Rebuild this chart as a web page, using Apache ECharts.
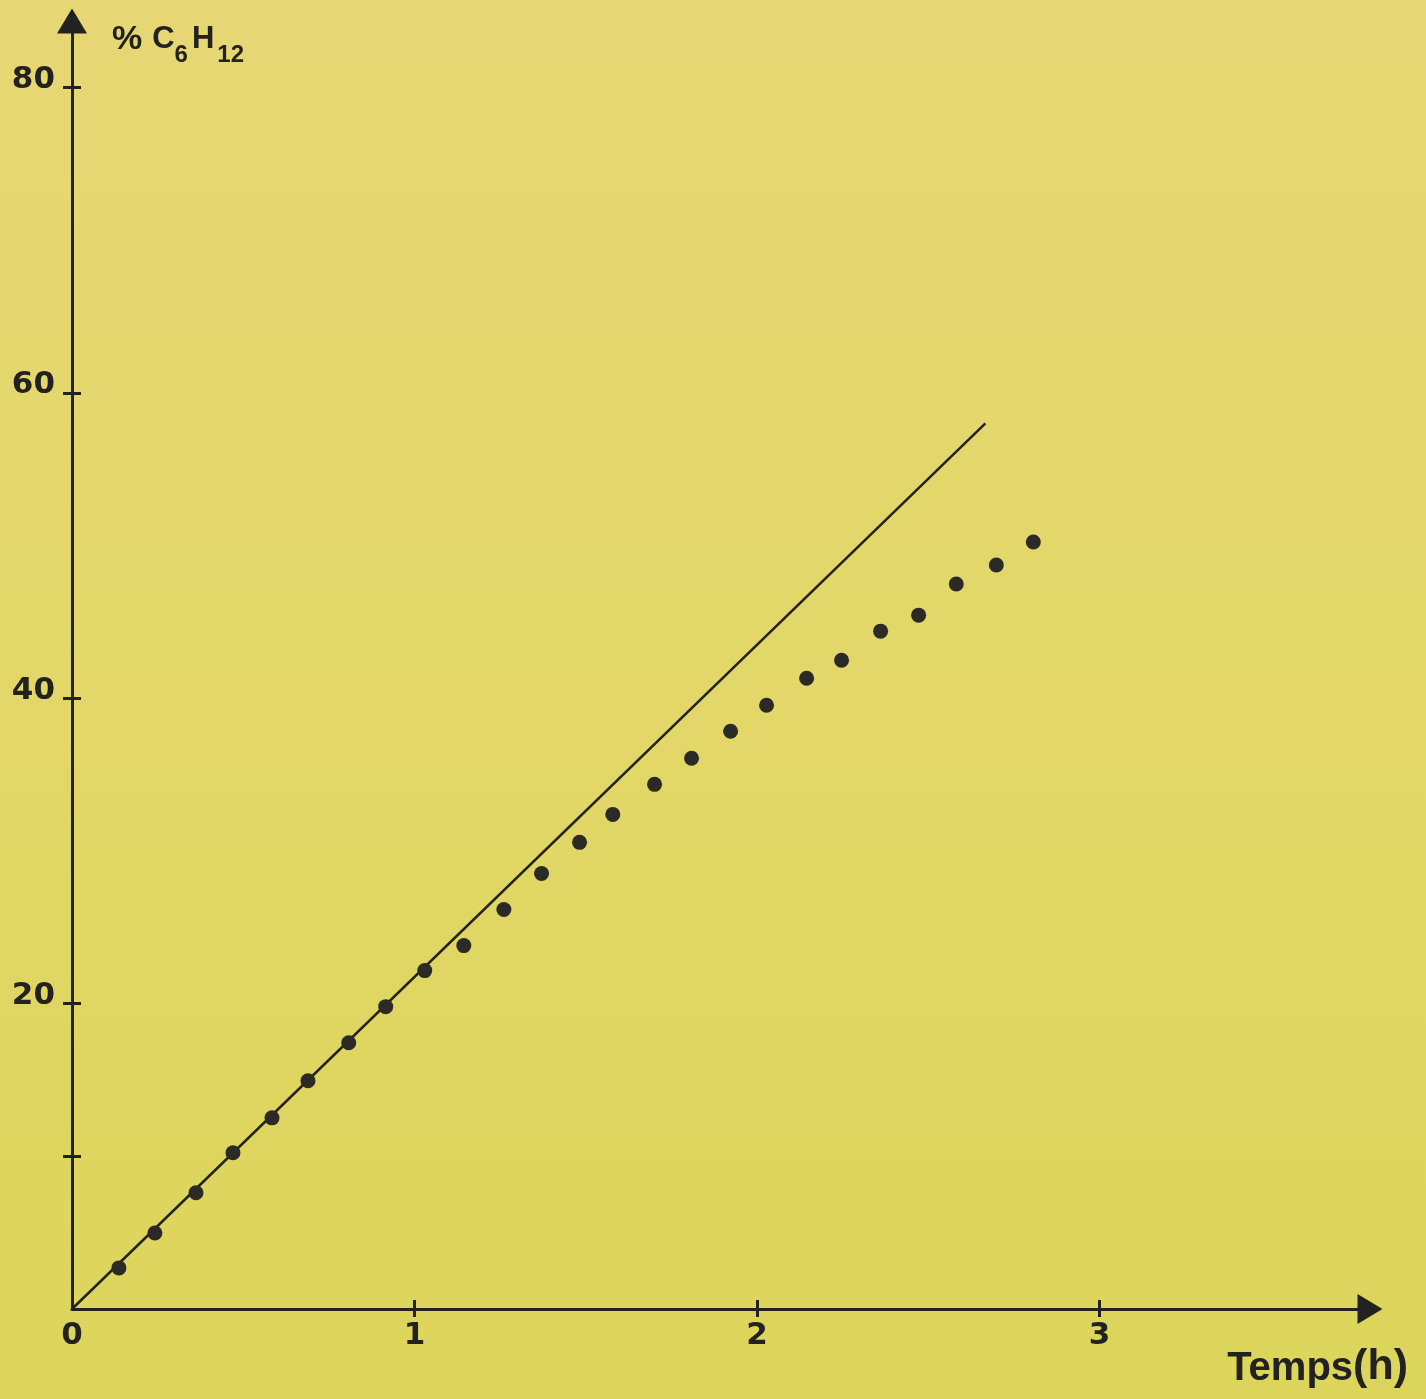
<!DOCTYPE html>
<html>
<head>
<meta charset="utf-8">
<title>% C6H12 en fonction du temps</title>
<script src="https://cdn.jsdelivr.net/npm/echarts@6/dist/echarts.min.js"></script>
<style>
  html, body { margin: 0; padding: 0; }
  #chart { width: 1426px; height: 1399px; }
</style>
</head>
<body>
<div id="chart"></div>
<script>
"use strict";

// measured points (time in hours, % C6H12)
var timeH = [0.137, 0.242, 0.362, 0.470, 0.584, 0.689, 0.808, 0.916, 1.030, 1.144,
	1.261, 1.371, 1.482, 1.579, 1.701, 1.809, 1.923, 2.028, 2.145, 2.247,
	2.361, 2.472, 2.582, 2.699, 2.807];
var pctC6H12 = [2.69, 4.98, 7.61, 10.23, 12.52, 14.95, 17.44, 19.80, 22.16, 23.80,
	26.16, 28.52, 30.56, 32.39, 34.36, 36.07, 37.84, 39.54, 41.31, 42.49,
	44.39, 45.44, 47.48, 48.72, 50.23];

// initial-rate straight line
var lineX = [0, 2.667];
var lineY = [0, 58.0];

var xTicks = [1, 2, 3];
var xLabels = [0, 1, 2, 3];
var yTicks = [10, 20, 40, 60, 80];
var yLabels = [20, 40, 60, 80];

var X_MAX = 3.79;
var Y_MAX = 84.35;
var INK = '#232220';
var DIGIT_FONT = '"DejaVu Sans", sans-serif';
var TEXT_FONT = '"Liberation Sans", Arial, sans-serif';

function pairs(xs, ys) {
	var out = [];
	for (var i = 0; i < xs.length; i++) out.push([xs[i], ys[i]]);
	return out;
}

var chart = echarts.init(document.getElementById('chart'), null, { renderer: 'canvas' });

var tickBase = { show: true, length: 9, lineStyle: { color: INK, width: 3 } };

function titleStyle(size, pad) {
	return {
		fontFamily: TEXT_FONT, fontWeight: 'bold', fontSize: size, lineHeight: size,
		color: INK, verticalAlign: 'bottom', padding: pad
	};
}

chart.setOption({
	animation: false,
	backgroundColor: {
		type: 'linear', x: 0, y: 0, x2: 0, y2: 1,
		colorStops: [
			{ offset: 0, color: '#e6d774' },
			{ offset: 0.5, color: '#e2d768' },
			{ offset: 1, color: '#dcd55b' }
		]
	},
	grid: {
		left: 72,
		right: 56,
		top: 21,
		bottom: 90,
		outerBoundsMode: 'none'
	},
	xAxis: [{
		type: 'value',
		min: 0,
		max: X_MAX,
		position: 'bottom',
		splitLine: { show: false },
		axisLine: {
			show: true,
			onZero: false,
			symbol: ['none', 'triangle'],
			symbolSize: [30, 25],
			lineStyle: { color: INK, width: 3 }
		},
		axisTick: Object.assign({}, tickBase, { inside: false, length: 8, customValues: xTicks }),
		axisLabel: {
			customValues: xLabels,
			margin: 11,
			color: INK,
			fontFamily: DIGIT_FONT,
			fontWeight: 'bold',
			fontSize: 31
		},
		name: '{t|Temps}{p|(h)}',
		nameLocation: 'end',
		nameGap: 38,
		nameTextStyle: {
			align: 'right',
			verticalAlign: 'top',
			padding: [32, 0, 0, 0],
			color: INK,
			rich: {
				t: { fontFamily: TEXT_FONT, fontWeight: 'bold', fontSize: 40, lineHeight: 48, color: INK, verticalAlign: 'bottom' },
				p: { fontFamily: TEXT_FONT, fontWeight: 'bold', fontSize: 43, lineHeight: 48, color: INK, verticalAlign: 'bottom' }
			}
		}
	}, {
		type: 'value',
		min: 0,
		max: X_MAX,
		position: 'bottom',
		splitLine: { show: false },
		axisLine: { show: false, onZero: false },
		axisTick: Object.assign({}, tickBase, { inside: true, customValues: xTicks }),
		axisLabel: { show: false }
	}],
	yAxis: [{
		type: 'value',
		min: 0,
		max: Y_MAX,
		position: 'left',
		splitLine: { show: false },
		axisLine: {
			show: true,
			onZero: false,
			symbol: ['none', 'triangle'],
			symbolSize: [30, 25],
			lineStyle: { color: INK, width: 3 }
		},
		axisTick: Object.assign({}, tickBase, { inside: false, customValues: yTicks }),
		axisLabel: {
			customValues: yLabels,
			margin: 17,
			color: INK,
			fontFamily: DIGIT_FONT,
			fontWeight: 'bold',
			fontSize: 31,
			verticalAlign: 'bottom',
			lineHeight: 15
		},
		name: '{pc|%}{m1|C}{s|6}{m2|H}{s2|12}',
		nameLocation: 'end',
		nameGap: -12,
		nameTextStyle: {
			align: 'left',
			verticalAlign: 'top',
			padding: [0, 0, 0, 40],
			color: INK,
			rich: {
				pc: titleStyle(34, [0, 0, 10, 0]),
				m1: titleStyle(31, [0, 0, 12, 10]),
				m2: titleStyle(31, [0, 0, 12, 4]),
				s: titleStyle(24, [0, 0, 0, 0]),
				s2: titleStyle(24, [0, 0, 0, 3])
			}
		}
	}, {
		type: 'value',
		min: 0,
		max: Y_MAX,
		position: 'left',
		splitLine: { show: false },
		axisLine: { show: false, onZero: false },
		axisTick: Object.assign({}, tickBase, { inside: true, customValues: yTicks }),
		axisLabel: { show: false }
	}],
	series: [{
		name: 'Droite initiale',
		type: 'line',
		xAxisIndex: 0,
		yAxisIndex: 0,
		data: pairs(lineX, lineY),
		showSymbol: false,
		symbol: 'none',
		lineStyle: { color: INK, width: 2.5 },
		z: 2
	}, {
		name: '% C6H12',
		type: 'scatter',
		xAxisIndex: 0,
		yAxisIndex: 0,
		data: pairs(timeH, pctC6H12),
		symbol: 'circle',
		symbolSize: 15,
		itemStyle: { color: '#2b2a27', opacity: 1 },
		z: 3
	}]
});
</script>
</body>
</html>
